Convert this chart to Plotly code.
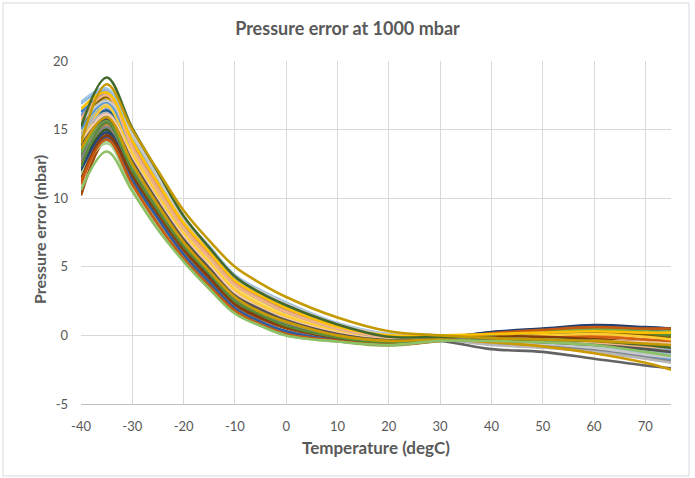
import plotly.graph_objects as go

temperature = [-40, -35, -30, -25, -20, -15, -10, -5, 0, 10, 20, 30, 40, 50, 60, 70, 75]

x_ticks = [-40, -30, -20, -10, 0, 10, 20, 30, 40, 50, 60, 70]
x_tick_labels = ["-40", "-30", "-20", "-10", "0", "10", "20", "30", "40", "50", "60", "70"]
y_ticks = [-5, 0, 5, 10, 15, 20]
y_tick_labels = ["-5", "0", "5", "10", "15", "20"]

sensor_01 = [13.5, 16.0, 12.7, 9.7, 7.0, 4.9, 3.0, 1.9, 1.1, 0.1, -0.35, -0.2, 0.0, 0.1, 0.2, 0.0, -0.1]
sensor_02 = [12.5, 15.4, 12.2, 9.3, 6.7, 4.6, 2.7, 1.6, 0.9, -0.05, -0.45, -0.25, -0.1, -0.05, 0.0, -0.3, -0.4]
sensor_03 = [14.8, 16.8, 13.2, 10.2, 7.4, 5.3, 3.3, 2.2, 1.4, 0.3, -0.25, -0.2, -0.3, -0.5, -0.8, -1.3, -1.6]
sensor_04 = [15.6, 17.3, 13.0, 10.0, 7.2, 5.1, 3.2, 2.1, 1.3, 0.25, -0.3, -0.15, 0.1, 0.2, 0.3, 0.2, 0.1]
sensor_05 = [15.0, 17.0, 13.7, 10.6, 7.8, 5.7, 3.7, 2.6, 1.7, 0.5, -0.15, -0.1, -0.4, -0.6, -0.9, -1.4, -1.7]
sensor_06 = [13.0, 15.0, 11.8, 8.9, 6.3, 4.3, 2.4, 1.4, 0.6, -0.2, -0.55, -0.3, 0.1, 0.3, 0.6, 0.5, 0.4]
sensor_07 = [12.0, 14.8, 11.9, 9.1, 6.5, 4.4, 2.5, 1.5, 0.7, -0.15, -0.5, -0.2, 0.2, 0.45, 0.7, 0.55, 0.5]
sensor_08 = [10.2, 14.2, 11.5, 8.7, 6.1, 4.1, 2.2, 1.2, 0.5, -0.25, -0.6, -0.3, -0.05, 0.0, -0.2, -0.7, -0.9]
sensor_09 = [13.2, 15.6, 12.4, 9.5, 6.8, 4.7, 2.8, 1.8, 1.0, 0.0, -0.4, -0.4, -1.0, -1.2, -1.7, -2.2, -2.4]
sensor_10 = [14.0, 18.3, 15.0, 12.0, 9.1, 6.9, 5.0, 3.8, 2.8, 1.3, 0.3, 0.0, -0.2, -0.3, -0.4, -0.6, -0.7]
sensor_11 = [14.2, 16.4, 13.0, 10.0, 7.2, 5.1, 3.1, 2.0, 1.2, 0.2, -0.3, -0.2, 0.0, 0.1, 0.3, 0.3, 0.2]
sensor_12 = [15.2, 18.8, 15.1, 11.9, 8.7, 6.4, 4.3, 3.1, 2.2, 0.8, -0.1, -0.1, -0.2, -0.3, -0.4, -0.7, -0.9]
sensor_13 = [16.0, 17.6, 13.5, 10.4, 7.6, 5.5, 3.5, 2.4, 1.6, 0.4, -0.2, -0.2, -0.5, -0.7, -1.0, -1.5, -1.8]
sensor_14 = [15.3, 17.9, 14.0, 10.9, 8.0, 5.9, 3.9, 2.7, 1.8, 0.55, -0.1, -0.1, -0.2, -0.3, -0.4, -0.6, -0.7]
sensor_15 = [14.6, 16.2, 12.8, 9.8, 7.0, 5.0, 3.0, 1.9, 1.1, 0.1, -0.35, -0.3, -0.7, -0.9, -1.2, -1.7, -2.0]
sensor_16 = [13.9, 16.7, 13.2, 10.2, 7.4, 5.3, 3.3, 2.2, 1.4, 0.3, -0.25, -0.2, -0.1, 0.0, 0.1, -0.1, -0.3]
sensor_17 = [16.9, 17.8, 14.4, 11.3, 8.3, 6.2, 4.1, 3.0, 2.1, 0.7, 0.0, -0.05, -0.3, -0.5, -0.7, -1.1, -1.3]
sensor_18 = [10.6, 13.4, 10.5, 7.7, 5.4, 3.4, 1.6, 0.7, 0.0, -0.45, -0.7, -0.4, -0.4, -0.5, -0.7, -1.2, -1.5]
sensor_19 = [11.5, 14.4, 11.3, 8.5, 5.9, 3.9, 2.0, 1.0, 0.3, -0.35, -0.65, -0.35, 0.0, 0.3, 0.5, 0.3, 0.2]
sensor_20 = [11.0, 14.5, 11.7, 8.9, 6.3, 4.3, 2.4, 1.4, 0.6, -0.2, -0.5, -0.3, -0.1, 0.0, -0.1, -0.3, -0.4]
sensor_21 = [12.8, 15.2, 12.1, 9.3, 6.6, 4.6, 2.7, 1.6, 0.9, -0.05, -0.45, -0.35, -0.6, -0.8, -1.1, -1.6, -1.9]
sensor_22 = [13.6, 15.9, 12.5, 9.5, 6.8, 4.7, 2.8, 1.7, 1.0, 0.0, -0.4, -0.3, -0.5, -0.8, -1.3, -2.0, -2.5]
sensor_23 = [16.3, 17.2, 14.1, 11.0, 8.1, 6.0, 4.0, 2.8, 1.9, 0.6, -0.05, -0.1, -0.4, -0.6, -0.8, -1.2, -1.3]
sensor_24 = [12.3, 15.5, 12.0, 9.1, 6.5, 4.5, 2.5, 1.5, 0.7, -0.15, -0.5, -0.25, 0.1, 0.3, 0.5, 0.2, 0.0]
sensor_25 = [14.4, 16.6, 13.3, 10.3, 7.4, 5.3, 3.4, 2.3, 1.4, 0.3, -0.25, -0.2, -0.3, -0.4, -0.5, -0.8, -1.0]
sensor_26 = [15.8, 17.5, 13.7, 10.6, 7.8, 5.7, 3.7, 2.6, 1.7, 0.5, -0.15, -0.15, -0.5, -0.6, -0.6, -0.8, -0.9]
sensor_27 = [15.5, 17.1, 14.6, 11.5, 8.4, 6.3, 4.3, 3.2, 2.3, 0.85, 0.05, 0.0, -0.4, -0.6, -0.9, -1.4, -1.6]
sensor_28 = [14.9, 16.9, 13.5, 10.4, 7.6, 5.5, 3.5, 2.4, 1.5, 0.4, -0.2, -0.15, -0.2, -0.3, -0.4, -0.6, -0.6]
sensor_29 = [17.0, 18.0, 14.8, 11.7, 8.6, 6.5, 4.4, 3.3, 2.4, 0.9, 0.1, 0.0, -0.3, -0.5, -0.8, -1.2, -1.3]
sensor_30 = [11.8, 14.0, 11.2, 8.4, 5.9, 3.9, 2.0, 1.0, 0.3, -0.35, -0.65, -0.35, -0.2, -0.3, -0.5, -0.9, -1.1]
sensor_31 = [12.6, 15.1, 12.1, 9.2, 6.6, 4.5, 2.6, 1.6, 0.8, -0.1, -0.5, -0.2, 0.25, 0.5, 0.75, 0.6, 0.5]
sensor_32 = [11.3, 14.6, 11.7, 8.9, 6.3, 4.2, 2.3, 1.3, 0.6, -0.2, -0.55, -0.3, -0.1, -0.1, -0.3, -0.5, -0.6]
sensor_33 = [13.8, 15.8, 12.7, 9.7, 7.0, 4.9, 2.9, 1.9, 1.1, 0.1, -0.35, -0.3, -0.4, -0.5, -0.7, -1.0, -1.2]
sensor_34 = [15.1, 17.4, 13.9, 10.8, 8.0, 5.9, 3.9, 2.7, 1.8, 0.55, -0.1, -0.1, 0.0, 0.1, 0.15, 0.0, -0.1]
sensor_35 = [11.2, 14.3, 11.0, 8.1, 5.6, 3.6, 1.8, 0.8, 0.1, -0.4, -0.7, -0.4, 0.15, 0.4, 0.6, 0.5, 0.5]
sensor_36 = [12.2, 15.0, 11.4, 8.5, 5.9, 3.8, 1.9, 0.9, 0.2, -0.4, -0.7, -0.35, 0.0, 0.2, 0.45, 0.3, 0.2]
sensor_37 = [14.0, 16.1, 12.9, 9.9, 7.2, 5.1, 3.1, 2.0, 1.2, 0.2, -0.3, -0.2, -0.2, -0.3, -0.4, -0.5, -0.6]
sensor_38 = [16.5, 17.7, 14.2, 11.1, 8.2, 6.1, 4.0, 2.9, 2.0, 0.65, 0.0, 0.0, 0.1, 0.2, 0.3, 0.2, 0.2]
sensor_39 = [11.7, 14.1, 10.6, 7.8, 5.4, 3.4, 1.6, 0.7, 0.0, -0.45, -0.75, -0.4, -0.3, -0.4, -0.6, -1.0, -1.2]
sensor_40 = [13.3, 15.7, 12.4, 9.5, 6.8, 4.7, 2.8, 1.7, 1.0, 0.0, -0.4, -0.25, 0.1, 0.25, 0.45, 0.3, 0.2]

series = [sensor_01, sensor_02, sensor_03, sensor_04, sensor_05, sensor_06, sensor_07, sensor_08,
          sensor_09, sensor_10, sensor_11, sensor_12, sensor_13, sensor_14, sensor_15, sensor_16,
          sensor_17, sensor_18, sensor_19, sensor_20, sensor_21, sensor_22, sensor_23, sensor_24,
          sensor_25, sensor_26, sensor_27, sensor_28, sensor_29, sensor_30, sensor_31, sensor_32,
          sensor_33, sensor_34, sensor_35, sensor_36, sensor_37, sensor_38, sensor_39, sensor_40]

colors = ["#4472C4", "#ED7D31", "#A5A5A5", "#FFC000", "#5B9BD5", "#70AD47",
          "#264478", "#9E480E", "#636363", "#C49A00", "#255E91", "#43682B",
          "#698ED0", "#F1975A", "#B7B7B7", "#FFCD33", "#7CAFDD", "#8CC168",
          "#335AA1", "#D26012", "#848484", "#CC9A00", "#327DC2", "#5A8A39",
          "#8FAADC", "#F4B183", "#C9C9C9", "#FFD966", "#9DC3E6", "#A9D18E",
          "#203864", "#843C0C", "#525252", "#7F6000", "#C55A11", "#385723",
          "#F8CBAD", "#FFC000", "#A9D18E", "#70AD47"]

# interleave draw order so no single colour family dominates; outliers drawn last
order = [0, 7, 30, 1, 22, 5, 35, 19, 12, 2, 29, 8, 24, 3, 33, 18, 13, 6, 38,
         27, 10, 20, 15, 4, 31, 25, 23, 14, 36, 39, 34, 16, 28, 26, 32, 37, 21, 17, 11, 9]

fig = go.Figure()
for i in order:
    fig.add_trace(go.Scatter(
        x=temperature, y=series[i], mode="lines",
        line=dict(color=colors[i], width=2.6, shape="spline", smoothing=1.0),
        showlegend=False, hoverinfo="skip"))

txt = "#595959"
grid = "#D9D9D9"
fig.update_layout(
    width=695, height=478,
    margin=dict(l=81, r=24, t=61, b=74, autoexpand=False),
    paper_bgcolor="white", plot_bgcolor="white",
    font=dict(family="Lato, Open Sans, sans-serif", color=txt),
    title=dict(text="<b>Pressure error at 1000 mbar</b>", x=0.5, xref="container", xanchor="center",
               y=1 - 29 / 478, yref="container", yanchor="middle",
               font=dict(size=18, color=txt, family="Lato")),
    xaxis=dict(range=[-40, 75], tickvals=x_ticks, ticktext=x_tick_labels,
               showgrid=True, gridcolor=grid, gridwidth=1,
               zeroline=False, showline=True, linecolor="#BFBFBF", linewidth=1, automargin=False,
               ticks="", ticklabelstandoff=10, tickfont=dict(size=13, color=txt)),
    yaxis=dict(range=[-5, 20], tickvals=y_ticks, ticktext=y_tick_labels,
               showgrid=True, gridcolor=grid, gridwidth=1,
               zeroline=False, showline=False, ticks="", ticklabelstandoff=12, automargin=False,
               tickfont=dict(size=13, color=txt)),
)

fig.add_annotation(text="<b>Temperature (degC)</b>", xref="paper", yref="paper",
                   x=(376 - 81) / 590, y=-(448 - 404) / 343, xanchor="center", yanchor="middle",
                   showarrow=False, font=dict(size=17, color=txt, family="Lato"))
fig.add_annotation(text="<b>Pressure error (mbar)</b>", xref="paper", yref="paper",
                   x=-(81 - 39) / 590, y=(404 - 230) / 343, xanchor="center", yanchor="middle",
                   textangle=-90, showarrow=False, font=dict(size=16, color=txt, family="Lato"))

fig.add_shape(type="rect", xref="paper", yref="paper",
              x0=-(81 - 3) / 590, x1=(689 - 81) / 590, y0=-(476 - 404) / 343, y1=(404 - 3) / 343,
              line=dict(color="#D9D9D9", width=1), fillcolor="rgba(0,0,0,0)", layer="below")

fig.write_html("out.html", config={"displayModeBar": False},
               post_script="document.body.style.margin='0';document.body.style.padding='0';")
